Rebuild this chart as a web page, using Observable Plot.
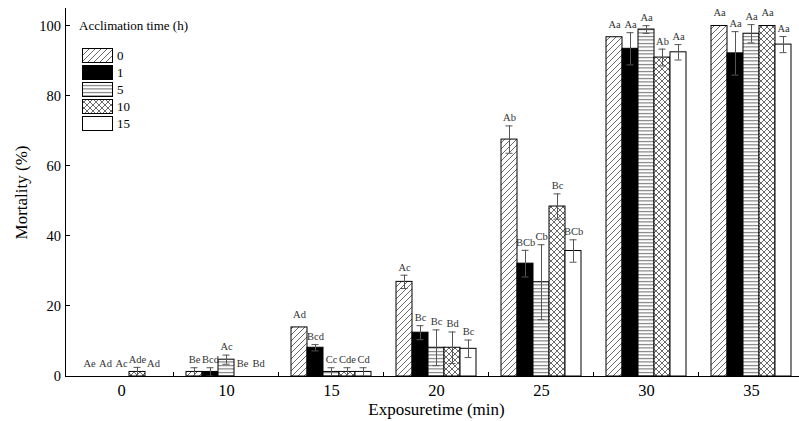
<!DOCTYPE html>
<html><head><meta charset="utf-8">
<script src="https://cdn.jsdelivr.net/npm/d3@7"></script>
<script src="https://cdn.jsdelivr.net/npm/@observablehq/plot@0.6"></script>
<style>
html,body{margin:0;padding:0;background:#fff;overflow:hidden;width:799px;height:421px}
#wrap{position:relative;width:799px;height:421px;overflow:hidden}
#wrap > svg.main{max-width:none !important;width:806px !important;height:421px !important;display:block}
#legend{position:absolute;left:0;top:0;width:200px;height:140px;pointer-events:none}
</style></head><body>
<svg width="0" height="0" style="position:absolute">
  <defs>
    <pattern id="pat0" patternUnits="userSpaceOnUse" width="6" height="6">
      <rect width="6" height="6" fill="#fff"/>
      <path d="M-1,7 L7,-1 M-1,1 L1,-1 M5,7 L7,5" stroke="#444" stroke-width="0.8"/>
    </pattern>
    <pattern id="pat1" patternUnits="userSpaceOnUse" width="4" height="4">
      <rect width="4" height="4" fill="#000"/>
    </pattern>
    <pattern id="pat5" patternUnits="userSpaceOnUse" width="4" height="3.5">
      <rect width="4" height="3.5" fill="#fff"/>
      <path d="M0,1.5 H4" stroke="#555" stroke-width="0.9"/>
    </pattern>
    <pattern id="pat10" patternUnits="userSpaceOnUse" width="6" height="6">
      <rect width="6" height="6" fill="#fff"/>
      <path d="M-1,7 L7,-1 M-1,1 L1,-1 M5,7 L7,5 M-1,-1 L7,7 M5,-1 L7,1 M-1,5 L1,7" stroke="#444" stroke-width="0.8"/>
    </pattern>
    <pattern id="pat15" patternUnits="userSpaceOnUse" width="4" height="4">
      <rect width="4" height="4" fill="#fff"/>
    </pattern>
  </defs>
</svg>
<div id="wrap"></div>
<script>
// Exposure time groups (min) and acclimation levels (h)
const groups = ["0", "10", "15", "20", "25", "30", "35"];
const levels = ["0", "1", "5", "10", "15"];
const legendTitle = "Acclimation time (h)";
const yTicks = [0, 20, 40, 60, 80, 100];

// Mortality (%) per acclimation level, across exposure times
const mort_0h  = [0,   1.3, 14.0, 27.0, 67.6, 96.8, 100];
const mort_1h  = [0,   1.3,  8.2, 12.5, 32.2, 93.5, 92.2];
const mort_5h  = [0,   4.8,  1.3,  8.2, 26.9, 99.0, 97.8];
const mort_10h = [1.3, 0,    1.3,  8.2, 48.5, 91.0, 100];
const mort_15h = [0,   0,    1.3,  7.9, 35.8, 92.5, 94.7];

// Standard errors
const se_0h  = [0,   1.2, 0,   1.9, 3.9,  0,   0];
const se_1h  = [0,   1.2, 0.9, 2.0, 3.8,  4.6, 6.2];
const se_5h  = [0,   1.3, 1.2, 5.1, 10.7, 1.1, 2.6];
const se_10h = [1.3, 0,   1.2, 4.5, 3.6,  2.4, 0];
const se_15h = [0,   0,   1.2, 2.5, 3.2,  2.2, 2.3];

// Significance letters
const let_0h  = ["Ae", "Be", "Ad", "Ac", "Ab", "Aa", "Aa"];
const let_1h  = ["Ad", "Bcd", "Bcd", "Bc", "BCb", "Aa", "Aa"];
const let_5h  = ["Ac", "Ac", "Cc", "Bc", "Cb", "Aa", "Aa"];
const let_10h = ["Ade", "Be", "Cde", "Bd", "Bc", "Ab", "Aa"];
const let_15h = ["Ad", "Bd", "Cd", "Bc", "BCb", "Aa", "Aa"];

const patterns = ["url(#pat0)", "url(#pat1)", "url(#pat5)", "url(#pat10)", "url(#pat15)"];

const series = [
  [mort_0h, se_0h, let_0h],
  [mort_1h, se_1h, let_1h],
  [mort_5h, se_5h, let_5h],
  [mort_10h, se_10h, let_10h],
  [mort_15h, se_15h, let_15h]
];
const rows = [];
groups.forEach((g, gi) => {
  levels.forEach((lv, li) => {
    const [m, s, l] = series[li];
    rows.push({group: g, level: lv, mean: m[gi], se: s[gi], letter: l[gi]});
  });
});

const serif = "'Liberation Serif', 'Times New Roman', serif";
const labelStyle = {x: "level", y: d => d.mean + d.se, text: "letter", fontSize: 10.5, fontFamily: serif, fill: "#333"};

const plot = Plot.plot({
  width: 806,
  height: 421,
  marginLeft: 65,
  marginRight: 0,
  marginTop: 8,
  marginBottom: 45,
  className: "main",
  style: {fontFamily: serif, fontSize: "15px", color: "#000", background: "transparent", maxWidth: "none"},
  facet: {data: rows, x: "group"},
  fx: {
    domain: groups, paddingInner: 0.2, paddingOuter: 0.1,
    label: "Exposuretime (min)", labelAnchor: "center", labelArrow: "none",
    tickSize: 0, tickPadding: 7.5, labelOffset: 38.5
  },
  x: {domain: levels, padding: 0, axis: null},
  y: {
    domain: [0, 105], ticks: yTicks, tickSize: 0, tickPadding: 18.5,
    label: "Mortality (%)", labelAnchor: "center", labelArrow: "none", labelOffset: 65
  },
  color: {type: "ordinal", domain: levels, range: patterns},
  marks: [
    Plot.barY(rows, {x: "level", y: "mean", fill: "level", stroke: "#000", strokeWidth: 1}),
    Plot.ruleX(rows, {filter: d => d.se > 0, x: "level", y1: d => d.mean - d.se, y2: d => d.mean + d.se, stroke: "#555", strokeWidth: 1}),
    Plot.tickY(rows, {filter: d => d.se > 0, x: "level", y: d => d.mean + d.se, stroke: "#555", strokeWidth: 1, insetLeft: 4.5, insetRight: 4.5}),
    Plot.tickY(rows, {filter: d => d.se > 0, x: "level", y: d => d.mean - d.se, stroke: "#555", strokeWidth: 1, insetLeft: 4.5, insetRight: 4.5}),
    Plot.text(rows, {...labelStyle, filter: d => d.se > 0, dy: -8}),
    Plot.text(rows, {...labelStyle, filter: d => d.se === 0, dy: -13})
  ]
});

// Font sizes of the axis texts
const svg = d3.select(plot);
svg.selectAll('[aria-label="fx-axis tick label"]').attr("font-size", 16.5);
svg.selectAll('[aria-label="fx-axis label"]').attr("font-size", 17);
svg.selectAll('[aria-label="y-axis tick label"]').attr("font-size", 14.5);
svg.selectAll('[aria-label="y-axis label"]').attr("font-size", 17);

// Axis lines and ticks derived from the plot's own scales
const ys = plot.scale("y");
const fxs = plot.scale("fx");
const g = svg.append("g").attr("stroke", "#000").attr("stroke-width", 1).attr("shape-rendering", "crispEdges");
const x0 = fxs.range[0], x1 = fxs.range[1];
const yb = ys.apply(0), yt = ys.apply(ys.domain[1]);
g.append("line").attr("x1", x0).attr("x2", x0).attr("y1", yb).attr("y2", yt);
g.append("line").attr("x1", x0).attr("x2", x1).attr("y1", yb).attr("y2", yb);
yTicks.forEach(v => {
  g.append("line").attr("x1", x0).attr("x2", x0 + 5).attr("y1", ys.apply(v)).attr("y2", ys.apply(v));
});
const gap = (fxs.step - fxs.bandwidth) / 2;
groups.slice(1).forEach(gv => {
  const xb = fxs.apply(gv) - gap;
  g.append("line").attr("x1", xb).attr("x2", xb).attr("y1", yb).attr("y2", yb - 4);
});

const wrap = document.getElementById("wrap");
wrap.appendChild(plot);

// Legend overlay
const leg = d3.select(wrap).append("svg").attr("id", "legend").attr("width", 200).attr("height", 140)
  .style("font-family", serif);
leg.append("text").attr("x", 79).attr("y", 25).attr("dy", "0.35em").attr("font-size", 13).text(legendTitle);
levels.forEach((lv, i) => {
  const top = 48 + i * 17;
  leg.append("rect").attr("x", 82.5).attr("y", top + 0.5).attr("width", 30).attr("height", 14)
    .attr("fill", patterns[i]).attr("stroke", "#000").attr("stroke-width", 1);
  leg.append("text").attr("x", 117).attr("y", top + 7.5).attr("dy", "0.35em").attr("font-size", 13).text(lv);
});
</script>
</body></html>
